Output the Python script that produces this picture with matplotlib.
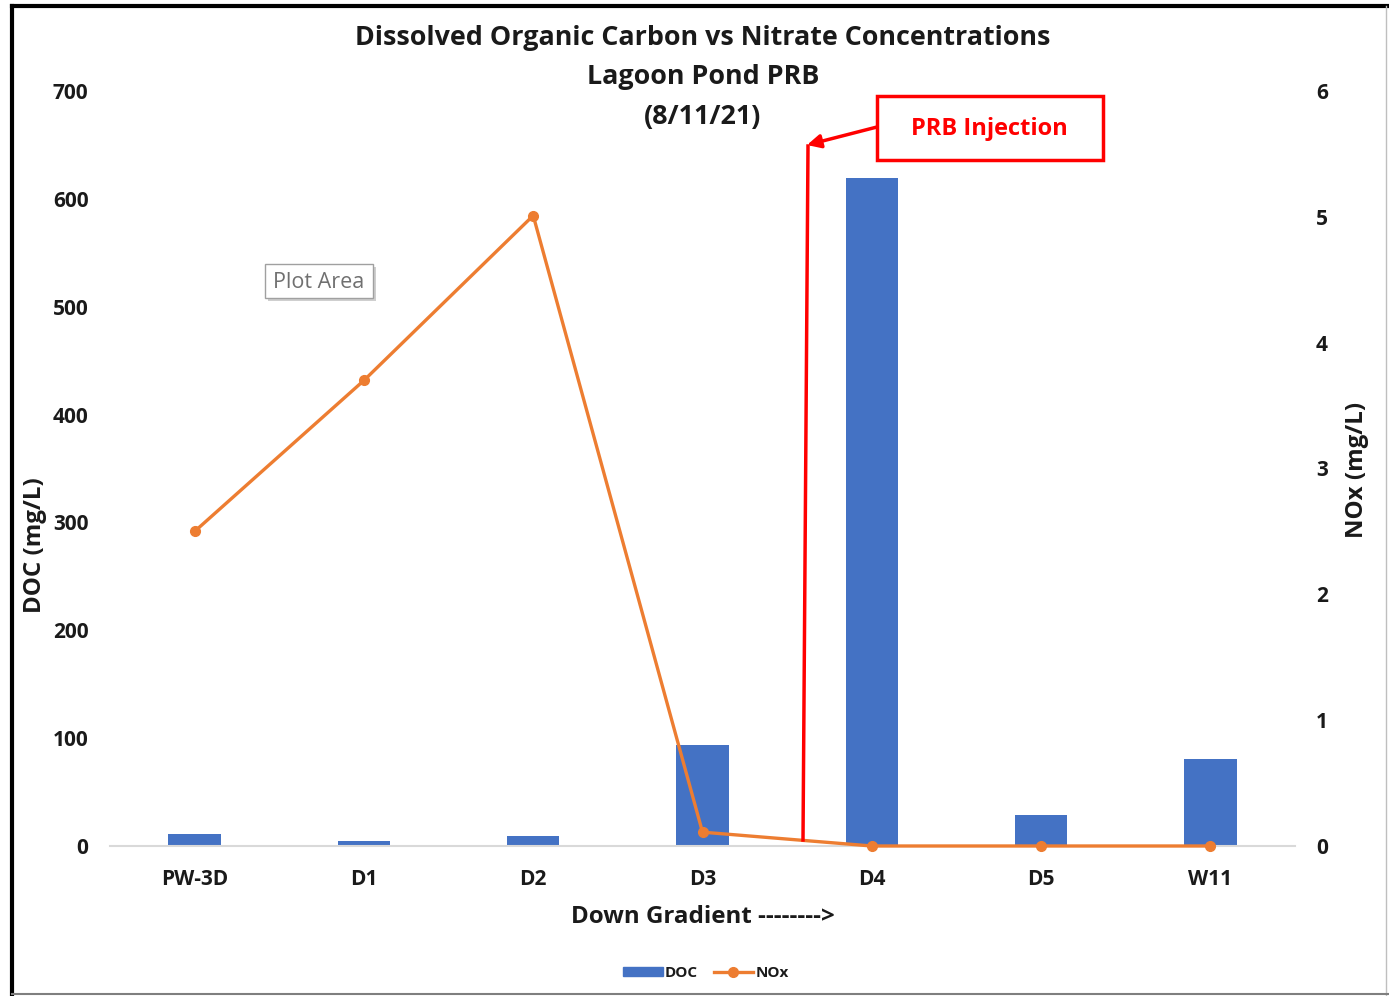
import matplotlib.pyplot as plt
from matplotlib.lines import Line2D
from matplotlib.patches import Rectangle, Patch

plt.rcParams['font.family'] = ['Open Sans', 'DejaVu Sans']

# data
sites = ['PW-3D', 'D1', 'D2', 'D3', 'D4', 'D5', 'W11']
doc = [11, 5, 9, 94, 619, 29, 81]
nox = [2.50, 3.70, 5.01, 0.11, 0.0, 0.0, 0.0]
doc_ticks = [0, 100, 200, 300, 400, 500, 600, 700]
nox_ticks = [0, 1, 2, 3, 4, 5, 6]

blue = '#4472C4'
orange = '#ED7D31'
txt = '#1a1a1a'
W, H = 1389, 996

fig = plt.figure(figsize=(W / 100, H / 100), dpi=100)
ax = fig.add_axes([110 / W, 1 - 846 / H, 1185 / W, 755 / H])
ax2 = ax.twinx()

x = list(range(len(sites)))
ax.bar(x, doc, width=0.31, color=blue, zorder=2)
ax2.plot(x, nox, color=orange, lw=2.4, marker='o', ms=7, zorder=3, clip_on=False)

ax.set_xlim(-0.5, len(sites) - 0.5)
ax.set_ylim(0, 700)
ax2.set_ylim(0, 6)
ax.set_yticks(doc_ticks)
ax2.set_yticks(nox_ticks)
ax.set_xticks(x)
ax.set_xticklabels(sites)

for a in (ax, ax2):
    for s in a.spines.values():
        s.set_visible(False)
    a.tick_params(length=0, labelsize=15, colors=txt)
    for lab in a.get_xticklabels() + a.get_yticklabels():
        lab.set_fontweight('bold')
ax.spines['bottom'].set_visible(True)
ax.spines['bottom'].set_color('#d9d9d9')
ax.spines['bottom'].set_linewidth(1.5)
ax.tick_params(axis='y', pad=15.5)
ax2.tick_params(axis='y', pad=15)
ax.tick_params(axis='x', pad=16.5)

ax.set_ylabel('DOC (mg/L)', fontsize=17.4, fontweight='bold', color=txt)
ax2.set_ylabel('NOx (mg/L)', fontsize=17.4, fontweight='bold', color=txt)
ax.yaxis.set_label_coords(-0.053, 0.399)
ax2.yaxis.set_label_coords(1.042, 0.498)
ax.set_xlabel('Down Gradient -------->', fontsize=17.4, fontweight='bold', color=txt, labelpad=11)

# title
for yy, t in [(38, 'Dissolved Organic Carbon vs Nitrate Concentrations'),
              (77, 'Lagoon Pond PRB'), (117, '(8/11/21)')]:
    fig.text(703 / W, 1 - yy / H, t, ha='center', va='center', fontsize=19.4,
             fontweight='bold', color=txt)

# PRB injection callout
fig.patches.append(Rectangle((877 / W, 1 - 160 / H), 226 / W, 64 / H, transform=fig.transFigure,
                             fill=False, ec='#FF0000', lw=2.5))
fig.text(989 / W, 1 - 129 / H, 'PRB Injection', ha='center', va='center', fontsize=17,
         fontweight='bold', color='#FF0000')
fig.lines.append(Line2D([803 / W, 808 / W], [1 - 840 / H, 1 - 146 / H], transform=fig.transFigure,
                        color='#FF0000', lw=2.5))
ax.annotate('', xy=(807 / W, 1 - 145 / H), xycoords='figure fraction',
            xytext=(877 / W, 1 - 127 / H), textcoords='figure fraction',
            arrowprops=dict(arrowstyle='-|>', color='#FF0000', lw=2.5, mutation_scale=20,
                            shrinkA=0, shrinkB=0))

# "Plot Area" tooltip
fig.patches.append(Rectangle((268 / W, 1 - 301 / H), 108 / W, 34 / H, transform=fig.transFigure,
                             fc='#b0b0b0', ec='none', alpha=0.6))
fig.patches.append(Rectangle((265 / W, 1 - 298 / H), 108 / W, 34 / H, transform=fig.transFigure,
                             fc='white', ec='#a0a0a0', lw=1))
fig.text(319 / W, 1 - 282 / H, 'Plot Area', ha='center', va='center', fontsize=15.5,
         color='#707070')

# legend
handles = [Patch(color=blue, label='DOC'),
           Line2D([0], [0], color=orange, lw=2.4, marker='o', ms=7, label='NOx')]
leg = fig.legend(handles=handles, loc='center', bbox_to_anchor=(706 / W, 1 - 973 / H),
                 ncol=2, frameon=False, handlelength=2.6, handleheight=0.55, columnspacing=1.0,
                 handletextpad=0.15, prop={'size': 11, 'weight': 'bold'})
for t in leg.get_texts():
    t.set_color(txt)

# outer frame
fig.lines.append(Line2D([12 / W, 12 / W], [0, 1 - 6 / H], transform=fig.transFigure, color='black', lw=3))
fig.lines.append(Line2D([12 / W, 1], [1 - 6 / H, 1 - 6 / H], transform=fig.transFigure, color='black', lw=3))
fig.lines.append(Line2D([1386 / W, 1386 / W], [0, 1 - 6 / H], transform=fig.transFigure, color='#bfbfbf', lw=1))
fig.lines.append(Line2D([12 / W, 1], [1 - 994 / H, 1 - 994 / H], transform=fig.transFigure, color='#7f7f7f', lw=1.5))

fig.savefig('out.png', dpi=100)
